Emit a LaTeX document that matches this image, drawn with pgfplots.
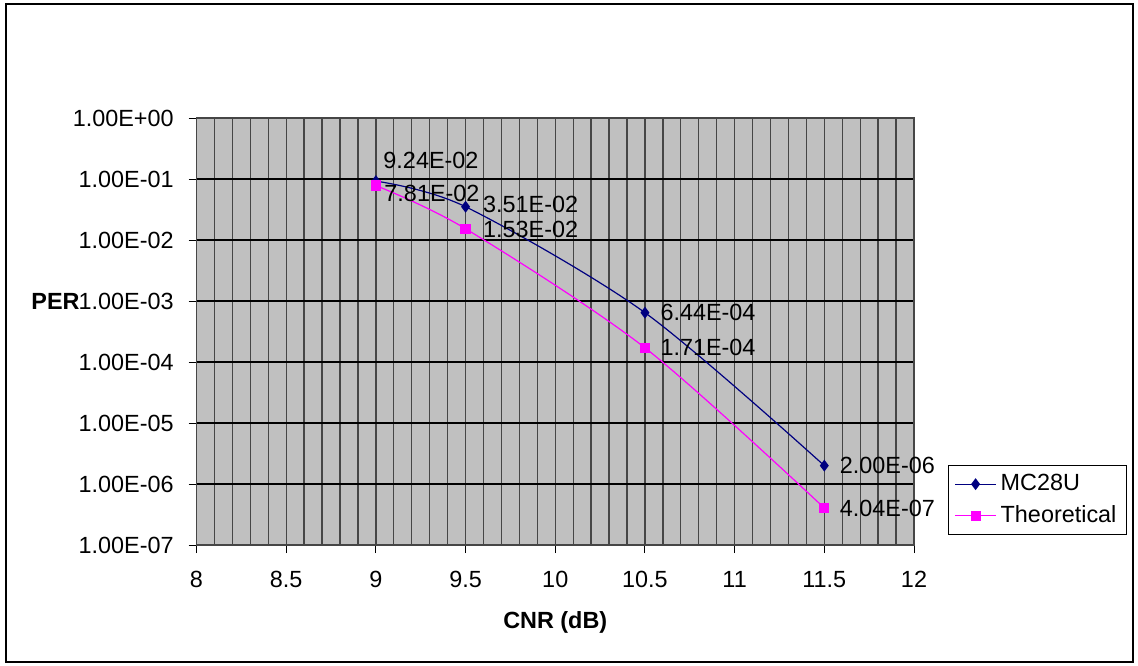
\documentclass[border=0pt]{standalone}
\usepackage{pgfplots}
\usepackage{pgfplotstable}
\pgfplotsset{compat=1.18}
\usepackage{fontspec}
\setmainfont{Liberation Sans}
\definecolor{navy}{RGB}{0,0,128}
\definecolor{mag}{RGB}{255,0,255}
\definecolor{plotgray}{RGB}{192,192,192}
\definecolor{gridgray}{RGB}{70,70,70}
\newcommand{\lbl}{\fontsize{11.7}{14}\selectfont}

\pgfplotstableread{
x y lab dx dy
9 0.0924 9.24E-02 3.5 10.5
9.5 0.0351 3.51E-02 8.5 1.3
10.5 0.000644 6.44E-04 7.5 0
11.5 0.000002 2.00E-06 7.5 0
}\mctable
\pgfplotstableread{
x y lab dx dy
9 0.0781 7.81E-02 4 -4
9.5 0.0153 1.53E-02 8.5 -0.6
10.5 0.000171 1.71E-04 7.5 0
11.5 0.000000404 4.04E-07 7.5 0
}\thtable

\begin{document}
\begin{tikzpicture}
\begin{axis}[
  at={(98.25pt,60pt)}, anchor=south west,
  scale only axis,
  width=358.75pt, height=213.5pt,
  ymode=log,
  xmin=8, xmax=12, ymin=1e-7, ymax=1,
  xtick={8,8.5,9,9.5,10,10.5,11,11.5,12},
  xticklabels={8,8.5,9,9.5,10,10.5,11,11.5,12},
  minor xtick={8.1,8.2,8.3,8.4,8.6,8.7,8.8,8.9,9.1,9.2,9.3,9.4,9.6,9.7,9.8,9.9,10.1,10.2,10.3,10.4,10.6,10.7,10.8,10.9,11.1,11.2,11.3,11.4,11.6,11.7,11.8,11.9},
  ytick={1e-7,1e-6,1e-5,1e-4,1e-3,1e-2,1e-1,1},
  yticklabels={1.00E-07,1.00E-06,1.00E-05,1.00E-04,1.00E-03,1.00E-02,1.00E-01,1.00E+00},
  yminorticks=false,
  xmajorgrids, xminorgrids, ymajorgrids,
  major x grid style={draw=gridgray, line width=0.65pt},
  minor x grid style={draw=gridgray, line width=0.65pt},
  major y grid style={draw=black, line width=0.55pt},
  minor tick length=0pt,
  major tick length=4pt,
  tick align=outside,
  tick pos=left,
  tick style={black, line width=0.5pt},
  axis line style={draw=gridgray, line width=0.65pt},
  axis background/.style={fill=plotgray},
  xticklabel style={font=\lbl, inner sep=0pt, yshift=-9pt},
  yticklabel style={font=\lbl, inner sep=0pt, xshift=-7.25pt},
  xlabel={\textbf{CNR (dB)}},
  ylabel={\textbf{PER}},
  xlabel style={font=\lbl, inner sep=0pt, at={(axis description cs:0.5,0)}, anchor=center, yshift=-38.5pt},
  ylabel style={font=\lbl, inner sep=0pt, rotate=-90, at={(axis description cs:0,0.5714)}, anchor=east, xshift=-58.25pt},
  legend style={at={(1.0474,0.1874)}, anchor=north west, draw=black, line width=0.5pt, fill=white, font=\lbl, inner xsep=3pt, inner ysep=2.5pt, row sep=2pt},
  legend cell align=left,
  legend image code/.code={\draw[mark repeat=2,mark phase=2] plot coordinates {(0cm,0cm)(0.36cm,0cm)(0.72cm,0cm)};},
  point meta=explicit symbolic,
  visualization depends on={\thisrow{dx}\as\dx},
  visualization depends on={\thisrow{dy}\as\dy},
  nodes near coords,
  every node near coord/.style={font=\lbl, text=black, inner sep=0pt, anchor=west, xshift=\dx pt, yshift=\dy pt},
  clip=false,
]
\addplot[navy, line width=0.6pt, smooth, mark=diamond*, mark size=2.5pt, mark options={solid, fill=navy}] table[x=x, y=y, meta=lab] {\mctable};
\addlegendentry{MC28U}
\addplot[mag, line width=0.6pt, smooth, mark=square*, mark size=2.25pt, mark options={solid, fill=mag}] table[x=x, y=y, meta=lab] {\thtable};
\addlegendentry{Theoretical}
\end{axis}
\pgfresetboundingbox
\useasboundingbox (0,0) rectangle (569pt,332.5pt);
\draw[black, line width=1pt] (2.75pt,1.5pt) rectangle (566.5pt,330.5pt);
\end{tikzpicture}
\end{document}
